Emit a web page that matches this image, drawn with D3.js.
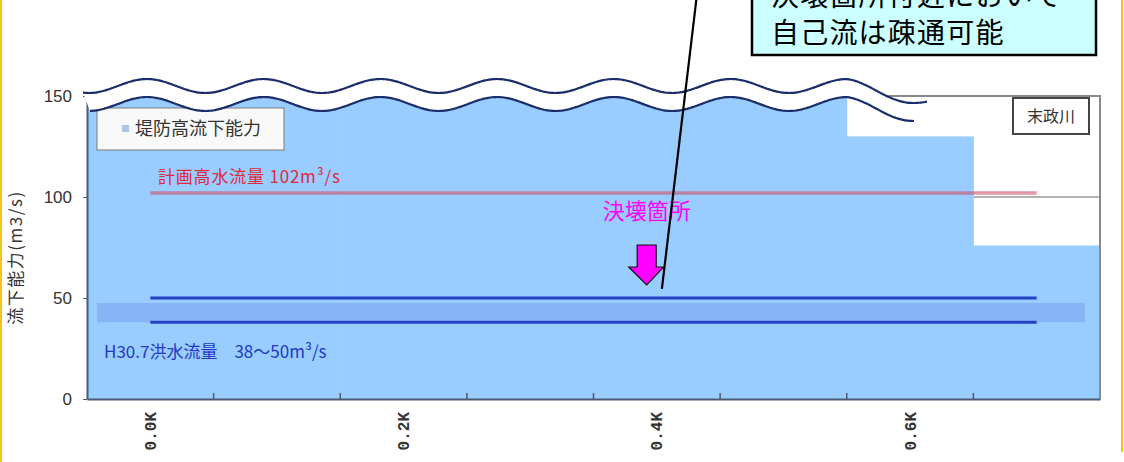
<!DOCTYPE html>
<html>
<head>
<meta charset="utf-8">
<script src="https://cdn.jsdelivr.net/npm/d3@7"></script>
<style>
  html, body { margin: 0; padding: 0; background: #fff; }
  svg { display: block; }
</style>
</head>
<body>
<svg id="chart" width="1124" height="462"></svg>
<script>
// Sections along the river (km from the confluence)
const categories = ["0.0K", "0.1K", "0.2K", "0.3K", "0.4K", "0.5K", "0.6K", "0.7K"];
const shownLabels = ["0.0K", "0.2K", "0.4K", "0.6K"];

// Flow capacity at bank height (m3/s); sections above 150 run past the axis break
const bankCapacity = [180, 180, 180, 180, 180, 180, 130, 76];
// Planned high-water discharge (m3/s)
const planHighFlow = [102, 102, 102, 102, 102, 102, 102, 102];
// July 2018 flood discharge range (m3/s)
const floodUpper = [50, 50, 50, 50, 50, 50, 50, 50];
const floodLower = [38, 38, 38, 38, 38, 38, 38, 38];
const floodBand = [38, 47.5];

const yTicks = [0, 50, 100, 150];
const breachKm = 0.392;            // breach location
const calloutTarget = [0.404, 54.5];

const legendLabel = "堤防高流下能力";
const riverName = "末政川";
const yTitle = "流下能力(m3/s)";
const planLabel = "計画高水流量 102m³/s";
const floodLabel = "H30.7洪水流量　38～50m³/s";
const breachLabel = "決壊箇所";
const calloutLines = ["決壊箇所付近において", "自己流は疎通可能"];

const svg = d3.select("#chart");
const plot = { left: 87, right: 1100, top: 96, bottom: 399 };

const x = d3.scaleBand().domain(categories).range([plot.left, plot.right]).padding(0);
const xKm = d3.scaleLinear().domain([0, 0.7])
  .range([x("0.0K") + x.bandwidth() / 2, x("0.7K") + x.bandwidth() / 2]);
const y = d3.scaleLinear().domain([0, 150]).range([plot.bottom, plot.top]);

const jp = "'Noto Sans CJK JP', 'Noto Sans', sans-serif";

// slide frame edges
svg.append("line").attr("x1", 1).attr("x2", 1).attr("y1", 0).attr("y2", 462)
  .attr("stroke", "#f7c21a").attr("stroke-width", 2);
svg.append("line").attr("x1", 1122).attr("x2", 1122).attr("y1", 0).attr("y2", 452)
  .attr("stroke", "#f7c21a").attr("stroke-width", 2);

svg.append("defs").append("clipPath").attr("id", "plotClip")
  .append("rect").attr("x", plot.left).attr("y", plot.top)
  .attr("width", plot.right - plot.left).attr("height", plot.bottom - plot.top);

// gridlines
svg.append("g").selectAll("line").data(yTicks.filter(d => d > 0)).join("line")
  .attr("x1", plot.left).attr("x2", plot.right)
  .attr("y1", d => y(d)).attr("y2", d => y(d))
  .attr("stroke", "#9a9a9a").attr("stroke-width", 1.5);

// capacity columns
svg.append("g").attr("clip-path", "url(#plotClip)")
  .selectAll("rect").data(categories).join("rect")
  .attr("x", d => x(d))
  .attr("width", x.bandwidth() + 0.5)
  .attr("y", (d, i) => y(bankCapacity[i]))
  .attr("height", (d, i) => y(0) - y(bankCapacity[i]))
  .attr("fill", "#99ccff");

// plot frame (top / right)
svg.append("path")
  .attr("d", `M${plot.left},${plot.top}H${plot.right}V${plot.bottom}`)
  .attr("fill", "none").attr("stroke", "#8a8a8a").attr("stroke-width", 2);

// flood range highlight
svg.append("rect")
  .attr("x", x("0.0K") + 10)
  .attr("width", (x("0.7K") + x.bandwidth() - 15) - (x("0.0K") + 10))
  .attr("y", y(floodBand[1]))
  .attr("height", y(floodBand[0]) - y(floodBand[1]))
  .attr("fill", "#87b3f7");

const lineGen = arr => d3.line()
  .x((d, i) => x(categories[i]) + x.bandwidth() / 2)
  .y(d => y(d))(arr);

svg.append("path").attr("d", lineGen(planHighFlow))
  .attr("fill", "none").attr("stroke", "rgb(205,85,110)").attr("stroke-opacity", 0.62)
  .attr("stroke-width", 3.5);
[floodUpper, floodLower].forEach(s => {
  svg.append("path").attr("d", lineGen(s))
    .attr("fill", "none").attr("stroke", "#2442c4").attr("stroke-width", 3);
});

// axes
const yAxis = svg.append("g").attr("transform", `translate(${plot.left},0)`)
  .call(d3.axisLeft(y).tickValues(yTicks).tickSize(4).tickPadding(11).tickSizeOuter(0));
yAxis.select(".domain").attr("stroke", "#4b5a70").attr("stroke-width", 2);
yAxis.selectAll(".tick line").attr("stroke", "#4b5a70");
yAxis.selectAll("text").attr("font-family", "'Liberation Sans', Arial, sans-serif")
  .attr("font-size", 17).attr("fill", "#333");

const xAxis = svg.append("g").attr("transform", `translate(0,${plot.bottom})`)
  .call(d3.axisBottom(x).tickValues(shownLabels).tickSize(0).tickSizeOuter(0));
xAxis.select(".domain").attr("stroke", "#4b5a70").attr("stroke-width", 2);
xAxis.selectAll("text")
  .attr("font-family", "'Liberation Mono', 'DejaVu Sans Mono', monospace")
  .attr("font-size", 16).attr("font-weight", "bold").attr("fill", "#333")
  .attr("text-anchor", "end")
  .attr("transform", "rotate(-90)")
  .attr("x", -13).attr("y", 0).attr("dy", "0.35em");

// inner ticks at section boundaries
svg.append("g").selectAll("line").data(categories.slice(1)).join("line")
  .attr("x1", d => x(d)).attr("x2", d => x(d))
  .attr("y1", plot.bottom).attr("y2", plot.bottom - 6)
  .attr("stroke", "#4b5a70").attr("stroke-width", 1.5);

// y axis title
svg.append("text")
  .attr("transform", `translate(16,${(plot.top + plot.bottom) / 2 + 10}) rotate(-90)`)
  .attr("text-anchor", "middle").attr("dy", "0.35em")
  .attr("font-family", jp).attr("font-size", 17).attr("letter-spacing", 1.5)
  .attr("fill", "#333")
  .text(yTitle);

// series labels
svg.append("text").attr("x", 158).attr("y", y(planHighFlow[0]) - 16)
  .attr("dy", "0.35em")
  .attr("font-family", jp).attr("font-size", 17).attr("letter-spacing", 0.8)
  .attr("fill", "#e02a3c")
  .text(planLabel);
svg.append("text").attr("x", 104).attr("y", y(floodLower[0]) + 30)
  .attr("dy", "0.35em")
  .attr("font-family", jp).attr("font-size", 17).attr("fill", "#2438c4")
  .text(floodLabel);

// legend
const lg = svg.append("g");
lg.append("rect").attr("x", 97).attr("y", 108).attr("width", 187).attr("height", 42)
  .attr("fill", "#f9f9f9").attr("stroke", "#7a7a7a").attr("stroke-width", 1);
lg.append("rect").attr("x", 122).attr("y", 125).attr("width", 7).attr("height", 7)
  .attr("fill", "#a9c5e4");
lg.append("text").attr("x", 135).attr("y", 129).attr("dy", "0.35em")
  .attr("font-family", jp).attr("font-size", 18).attr("fill", "#333")
  .text(legendLabel);

// river name box
const rb = svg.append("g");
rb.append("rect").attr("x", 1013).attr("y", 98).attr("width", 76).attr("height", 36)
  .attr("fill", "#fff").attr("stroke", "#444").attr("stroke-width", 2);
rb.append("text").attr("x", 1051).attr("y", 116).attr("dy", "0.35em")
  .attr("text-anchor", "middle")
  .attr("font-family", jp).attr("font-size", 16).attr("fill", "#333")
  .text(riverName);

// axis break (wavy band)
const waveY = xx => 86 - 7 * Math.cos(2 * Math.PI * (xx - 147) / 116.7)
  + (xx > 847 ? (xx - 847) * 0.16 : 0);
const topPts = d3.range(83, 929, 2).map(xx => [xx, waveY(xx)]);
const botPts = d3.range(90, 915, 2).map(xx => [xx, waveY(xx) + 18]);
svg.append("path")
  .attr("d", d3.line()(topPts.concat(botPts.slice().reverse())) + "Z")
  .attr("fill", "#fff");
[topPts, botPts].forEach(pts => {
  svg.append("path").attr("d", d3.line().curve(d3.curveBasis)(pts))
    .attr("fill", "none").attr("stroke", "#1b2e6b").attr("stroke-width", 2.2);
});

// breach marker
const bx = xKm(breachKm);
svg.append("text").attr("x", bx).attr("y", 211).attr("dy", "0.35em")
  .attr("text-anchor", "middle")
  .attr("font-family", jp).attr("font-size", 22).attr("fill", "#ff00ff")
  .text(breachLabel);
svg.append("path")
  .attr("d", `M${bx - 9.5},245 H${bx + 9.5} V267 H${bx + 17} L${bx},285 L${bx - 18},267 H${bx - 9.5} Z`)
  .attr("fill", "#ff00ff").attr("stroke", "#111").attr("stroke-width", 1.2)
  .attr("stroke-linejoin", "miter");

// callout
const tx = xKm(calloutTarget[0]), ty = y(calloutTarget[1]);
svg.append("line").attr("x1", tx + 38).attr("y1", -30).attr("x2", tx).attr("y2", ty)
  .attr("stroke", "#000").attr("stroke-width", 2.2);
const cb = svg.append("g");
cb.append("rect").attr("x", 752).attr("y", -40).attr("width", 344).attr("height", 95)
  .attr("fill", "#ccffff").attr("stroke", "#000").attr("stroke-width", 2.5);
cb.selectAll("text").data(calloutLines).join("text")
  .attr("x", 771).attr("y", (d, i) => 6 + i * 37)
  .attr("font-family", jp).attr("font-size", 28).attr("letter-spacing", 1.2)
  .attr("fill", "#000")
  .text(d => d);
</script>
</body>
</html>
